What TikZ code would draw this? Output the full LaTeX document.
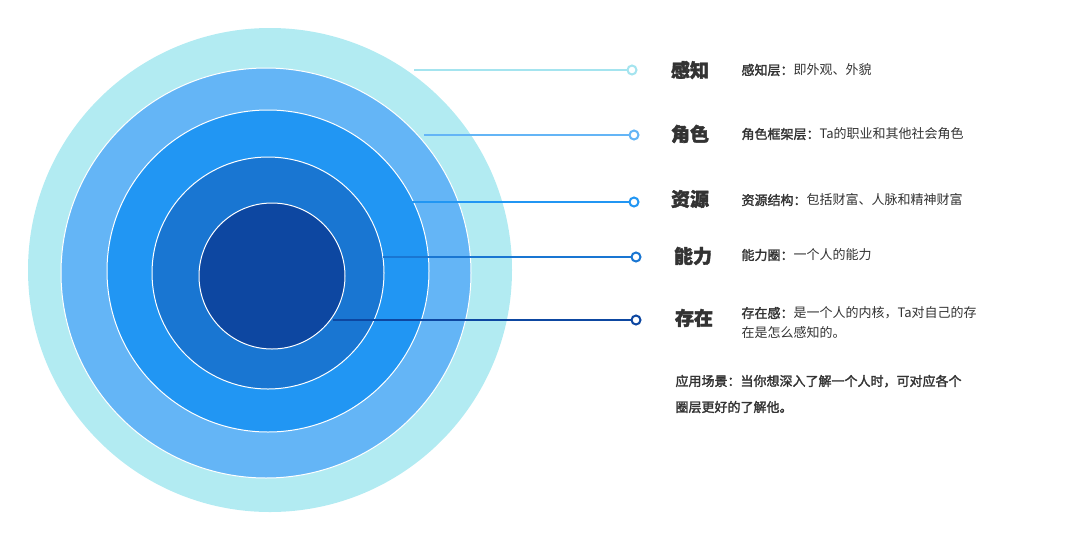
\documentclass[tikz,border=0pt]{standalone}
\usepackage{fontspec}
\setmainfont{Noto Sans CJK SC}
\newfontfamily\cjkb[FakeBold=2]{Noto Sans CJK SC}
\begin{document}
\begin{tikzpicture}[x=1pt,y=-1pt,
  ring/.style={draw=white,line width=1pt},
  lead/.style={line width=2.2pt},
  dotm/.style={circle,draw,line width=2pt,fill=white,inner sep=0pt,minimum size=9pt},
  ttl/.style={font=\fontsize{19}{22}\selectfont\bfseries,text=black!80,anchor=center},
  desc/.style={font=\fontsize{13}{20}\selectfont,text=black!80,anchor=west,align=left}]
\definecolor{c1}{HTML}{B2EBF2}\definecolor{c1l}{HTML}{A4E4EF}
\definecolor{c2}{HTML}{64B5F6}\definecolor{c3}{HTML}{2196F3}
\definecolor{c4}{HTML}{1976D2}\definecolor{c5}{HTML}{0D47A1}
\useasboundingbox (0,0) rectangle (1080,539);
\fill[c1] (270,270) ellipse [x radius=242,y radius=242];
\fill[c2,ring] (266,273) circle [radius=205];
\fill[c3,ring] (268,271) circle [radius=161];
\fill[c4,ring] (268,273) circle [radius=116];
\fill[c5,ring] (272,276) circle [radius=73];
\coordinate (s1) at (414,70); \node[dotm,draw=c1l] (d1) at (632,70) {};
\coordinate (s2) at (424,135); \node[dotm,draw=c2] (d2) at (634,135) {};
\coordinate (s3) at (412,202); \node[dotm,draw=c3] (d3) at (634,202) {};
\coordinate (s4) at (383,257); \node[dotm,draw=c4] (d4) at (636,257) {};
\coordinate (s5) at (333,320); \node[dotm,draw=c5] (d5) at (636,320) {};
\draw[lead,c1l] (s1) -- (d1); \draw[lead,c2] (s2) -- (d2);
\draw[lead,c3] (s3) -- (d3); \draw[lead,c4] (s4) -- (d4);
\draw[lead,c5] (s5) -- (d5);
\node[ttl] (t1) at (690,70) {\cjkb 感知};
\node[ttl] (t2) at (690,134) {\cjkb 角色};
\node[ttl] (t3) at (690,199) {\cjkb 资源};
\node[ttl] (t4) at (693,256) {\cjkb 能力};
\node[ttl] (t5) at (694,318) {\cjkb 存在};
\node[desc] (e1) at (738,70) {{\cjkb 感知层：}即外观、外貌};
\node[desc] (e2) at (738,134) {{\cjkb 角色框架层：}Ta的职业和其他社会角色};
\node[desc] (e3) at (738,200) {{\cjkb 资源结构：}包括财富、人脉和精神财富};
\node[desc] (e4) at (738,255) {{\cjkb 能力圈：}一个人的能力};
\node[desc] (e5) at (738,323) {{\cjkb 存在感：}是一个人的内核，Ta对自己的存\\在是怎么感知的。};
\node[desc,font=\fontsize{13}{26}\selectfont\cjkb] (e6) at (672,394) {应用场景：当你想深入了解一个人时，可对应各个\\圈层更好的了解他。};
\end{tikzpicture}
\end{document}
